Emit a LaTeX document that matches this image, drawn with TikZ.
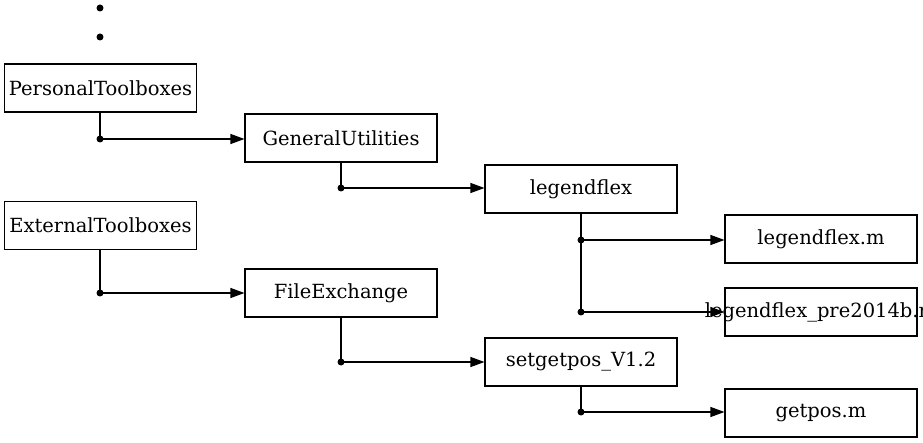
\documentclass[tikz,border=0pt]{standalone}
\usepackage{fontspec}
\setmainfont{DejaVu Serif}
\usetikzlibrary{arrows.meta}
\tikzset{
  box/.style={draw, line width=1.1pt, minimum width=192pt, minimum height=48pt, inner sep=0pt, font=\fontsize{19.5}{22}\selectfont},
  conn/.style={line width=1.1pt},
  arr/.style={conn, -{Triangle[length=14pt,width=10pt]}},
  dot/.style={circle, fill=black, inner sep=0pt, minimum size=7pt}
}
\begin{document}
\begin{tikzpicture}[x=1pt,y=-1pt]
\useasboundingbox (0,0) rectangle (923,443);
\node[dot] (d1) at (100,8) {};
\node[dot] (d2) at (100,37) {};
\node[box] (pt) at (100.5,88) {PersonalToolboxes};
\node[box] (et) at (100.5,225.5) {ExternalToolboxes};
\node[box] (gu) at (341,138) {GeneralUtilities};
\node[box] (fe) at (341,293) {FileExchange};
\node[box] (lf) at (581,189) {legendflex};
\node[box] (sg) at (581,362) {setgetpos\_V1.2};
\node[box] (lfm) at (821,239) {legendflex.m};
\node[box] (gp) at (821,413) {getpos.m};
\node[dot] (j1) at (100,139) {};
\node[dot] (j2) at (100,293) {};
\node[dot] (j3) at (341,188) {};
\node[dot] (j4) at (341,362) {};
\node[dot] (j5) at (581,240) {};
\node[dot] (j6) at (581,312) {};
\node[dot] (j7) at (581,412) {};
\draw[conn] (pt.south -| j1) -- (j1.center);
\draw[arr] (j1.center) -- (j1 -| gu.west);
\draw[conn] (et.south -| j2) -- (j2.center);
\draw[arr] (j2.center) -- (j2 -| fe.west);
\draw[conn] (gu.south) -- (j3.center);
\draw[arr] (j3.center) -- (j3 -| lf.west);
\draw[conn] (fe.south) -- (j4.center);
\draw[arr] (j4.center) -- (j4 -| sg.west);
\draw[conn] (lf.south) -- (j6.center);
\draw[arr] (j5.center) -- (j5 -| lfm.west);
\node[box] (lfp) at (821,312) {\makebox[0pt][c]{legendflex\_pre2014b.m}};
\draw[arr] (j6.center) -- (j6 -| lfp.west);
\draw[conn] (sg.south) -- (j7.center);
\draw[arr] (j7.center) -- (j7 -| gp.west);
\end{tikzpicture}
\end{document}
